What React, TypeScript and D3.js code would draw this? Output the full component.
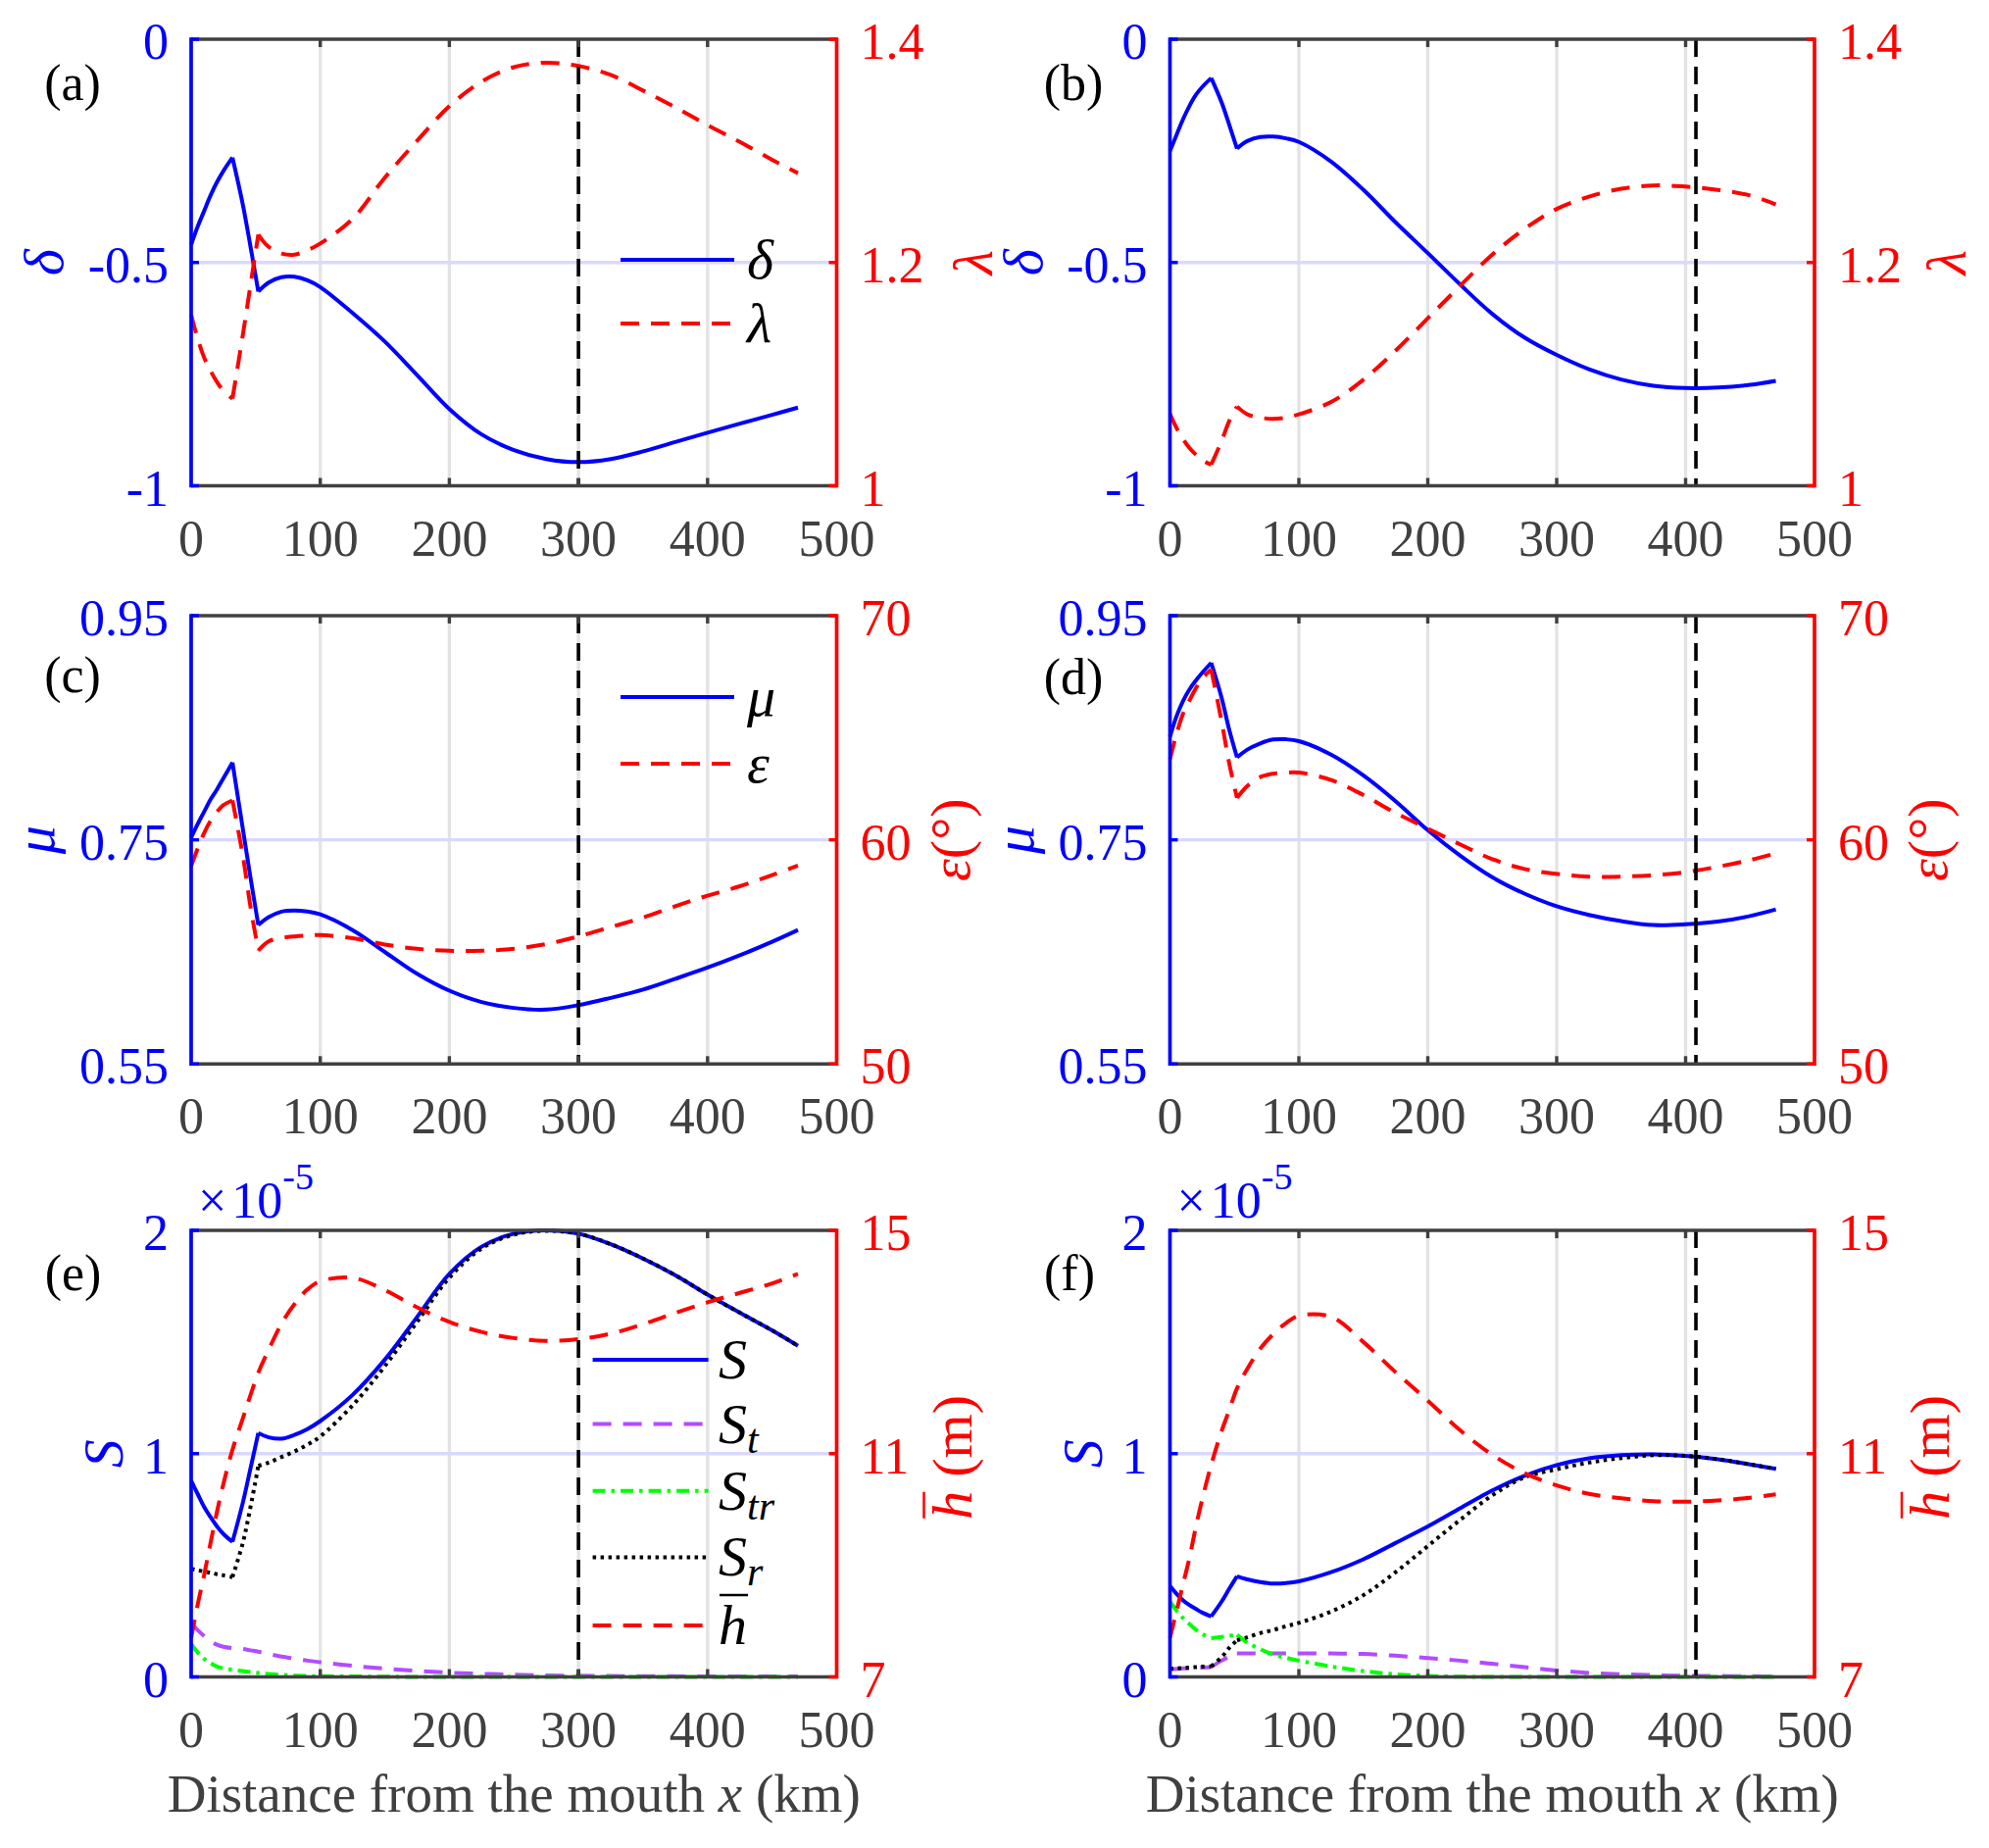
import React from "react";
import * as d3 from "d3";

const xKm = [0, 5, 10, 15, 20, 25, 32, 40, 46, 52, 60, 70, 80, 90, 100, 125, 150, 175, 200, 225, 250, 275, 300, 325, 350, 375, 400, 425, 450, 470];
// the curves have cusps at x = 32 km and x = 52 km
const breakIdx = [0, 6, 9, 29];
const xTicks = [0, 100, 200, 300, 400, 500];

// (a) and (b): delta (left axis) and lambda (right axis)
const deltaA = [-0.46, -0.42, -0.385, -0.35, -0.32, -0.295, -0.265, -0.37, -0.465, -0.565, -0.545, -0.533, -0.532, -0.54, -0.555, -0.613, -0.677, -0.752, -0.828, -0.885, -0.92, -0.94, -0.947, -0.94, -0.923, -0.902, -0.881, -0.861, -0.841, -0.825];
const lambdaA = [1.153, 1.132, 1.115, 1.103, 1.093, 1.085, 1.078, 1.135, 1.18, 1.225, 1.214, 1.208, 1.207, 1.211, 1.217, 1.239, 1.276, 1.309, 1.34, 1.362, 1.375, 1.379, 1.376, 1.368, 1.354, 1.339, 1.323, 1.308, 1.292, 1.28];
const deltaB = [-0.25, -0.215, -0.18, -0.15, -0.125, -0.107, -0.087, -0.141, -0.192, -0.245, -0.228, -0.219, -0.218, -0.222, -0.23, -0.274, -0.337, -0.41, -0.479, -0.549, -0.615, -0.668, -0.707, -0.739, -0.762, -0.776, -0.781, -0.78, -0.774, -0.765];
const lambdaB = [1.0646, 1.052, 1.042, 1.034, 1.028, 1.023, 1.019, 1.04, 1.058, 1.071, 1.064, 1.061, 1.06, 1.061, 1.064, 1.075, 1.095, 1.121, 1.15, 1.179, 1.207, 1.23, 1.248, 1.259, 1.266, 1.269, 1.268, 1.265, 1.26, 1.252];

// (c) and (d): mu (left axis) and epsilon in degrees (right axis)
const muC = [0.752, 0.764, 0.775, 0.786, 0.795, 0.805, 0.819, 0.76, 0.716, 0.674, 0.681, 0.686, 0.687, 0.686, 0.6835, 0.6695, 0.65, 0.6305, 0.6154, 0.6053, 0.6, 0.5985, 0.6025, 0.609, 0.6164, 0.626, 0.636, 0.647, 0.659, 0.6695];
const epsC = [58.83, 59.6, 60.3, 60.85, 61.25, 61.55, 61.76, 59.3, 57.0, 55.06, 55.47, 55.62, 55.69, 55.73, 55.75, 55.61, 55.33, 55.14, 55.05, 55.05, 55.14, 55.35, 55.69, 56.11, 56.53, 57.04, 57.51, 57.93, 58.43, 58.85];
const muD = [0.842, 0.86, 0.8736, 0.884, 0.892, 0.899, 0.908, 0.877, 0.848, 0.8236, 0.8305, 0.836, 0.8395, 0.8397, 0.838, 0.826, 0.8075, 0.7845, 0.7586, 0.736, 0.7166, 0.702, 0.6907, 0.683, 0.6775, 0.674, 0.6746, 0.677, 0.682, 0.6879];
const epsD = [63.6, 64.7, 65.6, 66.2, 66.75, 67.2, 67.6, 65.3, 63.4, 61.87, 62.4, 62.8, 62.95, 63.0, 63.0, 62.67, 62.0, 61.2, 60.5, 59.8, 59.14, 58.7, 58.48, 58.36, 58.36, 58.42, 58.56, 58.8, 59.1, 59.4];

// (e) and (f): S, St, Str, Sr in units of 1e-5 (left axis), h-bar in m (right axis)
const sE = [0.879, 0.82, 0.762, 0.716, 0.674, 0.64, 0.605, 0.78, 0.935, 1.092, 1.073, 1.067, 1.084, 1.11, 1.146, 1.263, 1.421, 1.612, 1.805, 1.927, 1.985, 2.0, 1.985, 1.938, 1.874, 1.799, 1.712, 1.631, 1.552, 1.483];
const stE = [0.242, 0.21, 0.183, 0.16, 0.144, 0.135, 0.129, 0.125, 0.119, 0.113, 0.103, 0.091, 0.082, 0.073, 0.066, 0.05, 0.037, 0.027, 0.019, 0.014, 0.01, 0.007, 0.005, 0.004, 0.003, 0.003, 0.002, 0.002, 0.002, 0.002];
const strE = [0.147, 0.11, 0.081, 0.061, 0.047, 0.038, 0.032, 0.026, 0.022, 0.018, 0.013, 0.009, 0.006, 0.004, 0.003, 0.002, 0.001, 0, 0, 0, 0, 0, 0, 0, 0, 0, 0, 0, 0, 0];
const srE = [0.484, 0.478, 0.472, 0.466, 0.46, 0.455, 0.447, 0.6, 0.762, 0.945, 0.96, 0.985, 1.01, 1.04, 1.077, 1.216, 1.392, 1.59, 1.788, 1.919, 1.981, 1.998, 1.985, 1.938, 1.874, 1.799, 1.712, 1.631, 1.552, 1.483];
const hE = [7.7, 8.29, 8.82, 9.4, 9.96, 10.46, 11.07, 11.63, 12.05, 12.45, 12.86, 13.33, 13.68, 13.94, 14.09, 14.15, 13.93, 13.62, 13.36, 13.18, 13.07, 13.02, 13.05, 13.15, 13.32, 13.52, 13.71, 13.88, 14.05, 14.22];
const sF = [0.407, 0.373, 0.344, 0.322, 0.305, 0.288, 0.271, 0.337, 0.395, 0.451, 0.437, 0.425, 0.418, 0.42, 0.428, 0.469, 0.527, 0.6, 0.674, 0.755, 0.835, 0.901, 0.949, 0.979, 0.993, 0.997, 0.99, 0.975, 0.952, 0.932];
const stF = [0.034, 0.036, 0.038, 0.039, 0.041, 0.042, 0.044, 0.073, 0.09, 0.105, 0.105, 0.105, 0.105, 0.105, 0.105, 0.105, 0.103, 0.095, 0.085, 0.073, 0.059, 0.044, 0.029, 0.018, 0.012, 0.008, 0.005, 0.004, 0.003, 0.002];
const strF = [0.337, 0.298, 0.264, 0.237, 0.212, 0.192, 0.173, 0.179, 0.184, 0.188, 0.154, 0.124, 0.101, 0.086, 0.073, 0.047, 0.026, 0.012, 0.004, 0.001, 0, 0, 0, 0, 0, 0, 0, 0, 0, 0];
const srF = [0.037, 0.038, 0.04, 0.042, 0.044, 0.046, 0.048, 0.088, 0.13, 0.164, 0.177, 0.196, 0.21, 0.227, 0.242, 0.293, 0.366, 0.469, 0.586, 0.703, 0.813, 0.894, 0.93, 0.96, 0.98, 0.993, 0.99, 0.975, 0.952, 0.932];
const hF = [7.7, 8.17, 8.65, 9.12, 9.68, 10.18, 10.8, 11.4, 11.78, 12.17, 12.52, 12.88, 13.14, 13.34, 13.47, 13.45, 13.0, 12.46, 11.95, 11.42, 10.98, 10.65, 10.43, 10.28, 10.2, 10.15, 10.14, 10.16, 10.21, 10.27];

const FONT = "'Liberation Serif', 'Times New Roman', Times, serif";
const BLUE = "#0000ff";
const RED = "#ff0000";
const PURPLE = "#b24cff";
const GREEN = "#00ff00";
const GRAY = "#404040";
const DASH = "19 12";
const DOT = "3.5 4.5";
const DASHDOT = "13 6 3.5 6";
const LW = 4;

const colLeft = [195, 1193.5];
const colWidth = [658.5, 657.5];
const rowTop = [40, 628, 1255];
const rowHeight = [455.5, 457.3, 455.5];

type Series = { values: number[]; side: "L" | "R"; color: string; dash?: string; split: boolean };
type LegendItem = { y: number; color: string; dash?: string; label: React.ReactNode; bar?: boolean };
type PanelDef = {
  col: number; row: number; letter: string; letterX: number; letterY: number;
  yL: [number, number]; ticksL: number[]; ticksLText: string[];
  yR: [number, number]; ticksR: number[]; ticksRText: string[];
  vline: number; series: Series[];
  labelL: string; labelLOff: number; labelR: string; labelROff: number;
  legend: { x1: number; x2: number; tx: number; items: LegendItem[] };
  exponent?: boolean;
};

const it = (s: string) => <tspan fontStyle="italic">{s}</tspan>;
const sub = (base: string, s: string) => (
  <>
    <tspan fontStyle="italic">{base}</tspan>
    <tspan fontStyle="italic" fontSize={42} dy={10}>{s}</tspan>
  </>
);

const legendAB = (x1: number, x2: number, tx: number, y1: number, y2: number, a: string, b: string) => ({
  x1, x2, tx,
  items: [
    { y: y1, color: BLUE, label: it(a) },
    { y: y2, color: RED, dash: DASH, label: it(b) },
  ],
});

const legendS = {
  x1: 604.6, x2: 722.6, tx: 733,
  items: [
    { y: 1387, color: BLUE, label: it("S") },
    { y: 1452.6, color: PURPLE, dash: DASH, label: sub("S", "t") },
    { y: 1520.8, color: GREEN, dash: DASHDOT, label: sub("S", "tr") },
    { y: 1588.4, color: "#000000", dash: DOT, label: sub("S", "r") },
    { y: 1658, color: RED, dash: DASH, label: it("h"), bar: true },
  ],
};

const noLegend = { x1: 0, x2: 0, tx: 0, items: [] };

const panels: PanelDef[] = [
  {
    col: 0, row: 0, letter: "(a)", letterX: 74, letterY: 102,
    yL: [-1, 0], ticksL: [-1, -0.5, 0], ticksLText: ["-1", "-0.5", "0"],
    yR: [1, 1.4], ticksR: [1, 1.2, 1.4], ticksRText: ["1", "1.2", "1.4"],
    vline: 300,
    series: [
      { values: deltaA, side: "L", color: BLUE, split: true },
      { values: lambdaA, side: "R", color: RED, dash: DASH, split: true },
    ],
    labelL: "delta", labelLOff: 131, labelR: "lambda", labelROff: 158,
    legend: legendAB(633, 749, 762, 265, 330, "δ", "λ"),
  },
  {
    col: 1, row: 0, letter: "(b)", letterX: 1095, letterY: 102,
    yL: [-1, 0], ticksL: [-1, -0.5, 0], ticksLText: ["-1", "-0.5", "0"],
    yR: [1, 1.4], ticksR: [1, 1.2, 1.4], ticksRText: ["1", "1.2", "1.4"],
    vline: 408,
    series: [
      { values: deltaB, side: "L", color: BLUE, split: true },
      { values: lambdaB, side: "R", color: RED, dash: DASH, split: true },
    ],
    labelL: "delta", labelLOff: 131, labelR: "lambda", labelROff: 154,
    legend: noLegend,
  },
  {
    col: 0, row: 1, letter: "(c)", letterX: 74, letterY: 706,
    yL: [0.55, 0.95], ticksL: [0.55, 0.75, 0.95], ticksLText: ["0.55", "0.75", "0.95"],
    yR: [50, 70], ticksR: [50, 60, 70], ticksRText: ["50", "60", "70"],
    vline: 300,
    series: [
      { values: muC, side: "L", color: BLUE, split: true },
      { values: epsC, side: "R", color: RED, dash: DASH, split: true },
    ],
    labelL: "mu", labelLOff: 140, labelR: "eps", labelROff: 135,
    legend: legendAB(633, 749, 762, 711, 779, "μ", "ε"),
  },
  {
    col: 1, row: 1, letter: "(d)", letterX: 1095, letterY: 708,
    yL: [0.55, 0.95], ticksL: [0.55, 0.75, 0.95], ticksLText: ["0.55", "0.75", "0.95"],
    yR: [50, 70], ticksR: [50, 60, 70], ticksRText: ["50", "60", "70"],
    vline: 408,
    series: [
      { values: muD, side: "L", color: BLUE, split: true },
      { values: epsD, side: "R", color: RED, dash: DASH, split: true },
    ],
    labelL: "mu", labelLOff: 140, labelR: "eps", labelROff: 135,
    legend: noLegend,
  },
  {
    col: 0, row: 2, letter: "(e)", letterX: 74.5, letterY: 1316,
    yL: [0, 2], ticksL: [0, 1, 2], ticksLText: ["0", "1", "2"],
    yR: [7, 15], ticksR: [7, 11, 15], ticksRText: ["7", "11", "15"],
    vline: 300,
    series: [
      { values: sE, side: "L", color: BLUE, split: true },
      { values: stE, side: "L", color: PURPLE, dash: DASH, split: false },
      { values: strE, side: "L", color: GREEN, dash: DASHDOT, split: false },
      { values: srE, side: "L", color: "#000000", dash: DOT, split: true },
      { values: hE, side: "R", color: RED, dash: DASH, split: false },
    ],
    labelL: "S", labelLOff: 70, labelR: "h", labelROff: 137,
    legend: legendS, exponent: true,
  },
  {
    col: 1, row: 2, letter: "(f)", letterX: 1091, letterY: 1316,
    yL: [0, 2], ticksL: [0, 1, 2], ticksLText: ["0", "1", "2"],
    yR: [7, 15], ticksR: [7, 11, 15], ticksRText: ["7", "11", "15"],
    vline: 408,
    series: [
      { values: sF, side: "L", color: BLUE, split: true },
      { values: stF, side: "L", color: PURPLE, dash: DASH, split: true },
      { values: strF, side: "L", color: GREEN, dash: DASHDOT, split: true },
      { values: srF, side: "L", color: "#000000", dash: DOT, split: true },
      { values: hF, side: "R", color: RED, dash: DASH, split: false },
    ],
    labelL: "S", labelLOff: 70, labelR: "h", labelROff: 137,
    legend: noLegend,
    exponent: true,
  },
];

function seriesPath(values: number[], xs: d3.ScaleLinear<number, number>, ys: d3.ScaleLinear<number, number>, split: boolean) {
  const line = d3.line<number>()
    .x((i) => xs(xKm[i]))
    .y((i) => ys(values[i]))
    .curve(d3.curveCatmullRom.alpha(0.5));
  if (!split) return line(d3.range(xKm.length)) ?? "";
  let d = "";
  for (let k = 0; k < breakIdx.length - 1; k++) {
    d += line(d3.range(breakIdx[k], breakIdx[k + 1] + 1)) ?? "";
  }
  return d;
}

function RightLabel({ kind, x, y }: { kind: string; x: number; y: number }) {
  if (kind === "lambda") {
    return (
      <text transform={`translate(${x},${y}) rotate(-90)`} textAnchor="middle" fontSize={58} fill={RED} fontStyle="italic">λ</text>
    );
  }
  if (kind === "eps") {
    return (
      <text transform={`translate(${x},${y}) rotate(-90)`} textAnchor="middle" fontSize={58} fill={RED}>
        <tspan fontStyle="italic">ε</tspan>(°)
      </text>
    );
  }
  return (
    <g transform={`translate(${x},${y}) rotate(-90)`}>
      <text x={-67} y={0} fontSize={58} fill={RED}>
        <tspan fontStyle="italic">h</tspan>
        <tspan dx={14}>(m)</tspan>
      </text>
      <line x1={-66} x2={-39} y1={-48} y2={-48} stroke={RED} strokeWidth={2.5} />
    </g>
  );
}

function Panel({ p }: { p: PanelDef }) {
  const x0 = colLeft[p.col];
  const w = colWidth[p.col];
  const y0 = rowTop[p.row];
  const h = rowHeight[p.row];
  const xs = d3.scaleLinear().domain([0, 500]).range([x0, x0 + w]);
  const yl = d3.scaleLinear().domain(p.yL).range([y0 + h, y0]);
  const yr = d3.scaleLinear().domain(p.yR).range([y0 + h, y0]);
  const mid = yl(p.ticksL[1]);
  const leftChar: Record<string, string> = { delta: "δ", mu: "μ", S: "S" };

  return (
    <g>
      {/* grid */}
      {xTicks.slice(1, -1).map((t) => (
        <line key={t} x1={xs(t)} x2={xs(t)} y1={y0} y2={y0 + h} stroke="#e3e3e3" strokeWidth={3.3} />
      ))}
      <line x1={x0} x2={x0 + w} y1={mid} y2={mid} stroke="#d9d9ff" strokeWidth={3.3} />

      {/* data */}
      {p.series.map((s, i) => (
        <path
          key={i}
          d={seriesPath(s.values, xs, s.side === "L" ? yl : yr, s.split)}
          fill="none"
          stroke={s.color}
          strokeWidth={LW}
          strokeDasharray={s.dash}
        />
      ))}
      <line x1={xs(p.vline)} x2={xs(p.vline)} y1={y0} y2={y0 + h} stroke="#000" strokeWidth={3.6} strokeDasharray="18 10" />

      {/* legend */}
      {p.legend.items.map((item, i) => (
        <g key={i}>
          <line x1={p.legend.x1} x2={p.legend.x2} y1={item.y} y2={item.y} stroke={item.color} strokeWidth={LW} strokeDasharray={item.dash} />
          <text x={p.legend.tx} y={item.y + 19} fontSize={58} fill="#000">{item.label}</text>
          {item.bar && (
            <line x1={p.legend.tx + 1} x2={p.legend.tx + 30} y1={item.y - 31} y2={item.y - 31} stroke="#000" strokeWidth={2.5} />
          )}
        </g>
      ))}

      {/* box and ticks */}
      <line x1={x0} x2={x0 + w} y1={y0} y2={y0} stroke={GRAY} strokeWidth={3.4} />
      <line x1={x0} x2={x0 + w} y1={y0 + h} y2={y0 + h} stroke={GRAY} strokeWidth={3.4} />
      {xTicks.slice(1, -1).map((t) => (
        <g key={t}>
          <line x1={xs(t)} x2={xs(t)} y1={y0} y2={y0 + 8} stroke={GRAY} strokeWidth={3.4} />
          <line x1={xs(t)} x2={xs(t)} y1={y0 + h - 8} y2={y0 + h} stroke={GRAY} strokeWidth={3.4} />
        </g>
      ))}
      <line x1={x0} x2={x0} y1={y0 - 1.7} y2={y0 + h + 1.7} stroke={BLUE} strokeWidth={3.7} />
      <line x1={x0 + w} x2={x0 + w} y1={y0 - 1.7} y2={y0 + h + 1.7} stroke={RED} strokeWidth={3.7} />
      {p.ticksL.map((t) => (
        <line key={t} x1={x0} x2={x0 + 8} y1={yl(t)} y2={yl(t)} stroke={BLUE} strokeWidth={3.4} />
      ))}
      {p.ticksR.map((t) => (
        <line key={t} x1={x0 + w - 8} x2={x0 + w} y1={yr(t)} y2={yr(t)} stroke={RED} strokeWidth={3.4} />
      ))}

      {/* tick labels */}
      {xTicks.map((t) => (
        <text key={t} x={xs(t)} y={y0 + h + 71} textAnchor="middle" fontSize={52} fill={GRAY}>{t}</text>
      ))}
      {p.ticksL.map((t, i) => (
        <text key={t} x={x0 - 23} y={yl(t) + 20} textAnchor="end" fontSize={52} fill={BLUE}>{p.ticksLText[i]}</text>
      ))}
      {p.ticksR.map((t, i) => (
        <text key={t} x={x0 + w + 24} y={yr(t) + 20} textAnchor="start" fontSize={52} fill={RED}>{p.ticksRText[i]}</text>
      ))}

      {/* axis labels */}
      <text transform={`translate(${x0 - p.labelLOff},${mid}) rotate(-90)`} textAnchor="middle" fontSize={58} fill={BLUE} fontStyle="italic">
        {leftChar[p.labelL]}
      </text>
      <RightLabel kind={p.labelR} x={x0 + w + p.labelROff} y={yr(p.ticksR[1])} />
      {p.exponent && (
        <text x={x0 + 7} y={y0 - 13} fontSize={52} fill={BLUE}>
          ×<tspan dx={5}>10</tspan>
          <tspan fontSize={38} dy={-29}>-5</tspan>
        </text>
      )}
      {p.row === 2 && (
        <text x={x0 + w / 2} y={1848} textAnchor="middle" fontSize={55} fill={GRAY}>
          Distance from the mouth <tspan fontStyle="italic">x</tspan> (km)
        </text>
      )}
      <text x={p.letterX} y={p.letterY} textAnchor="middle" fontSize={52} fill="#000">{p.letter}</text>
    </g>
  );
}

export default function App() {
  return (
    <svg
      width={2029}
      height={1885}
      viewBox="0 0 2029 1885"
      style={{ position: "absolute", left: 0, top: 0, background: "#fff" }}
      fontFamily={FONT}
    >
      <rect x={0} y={0} width={2029} height={1885} fill="#fff" />
      {panels.map((p) => (
        <Panel key={p.letter} p={p} />
      ))}
    </svg>
  );
}
